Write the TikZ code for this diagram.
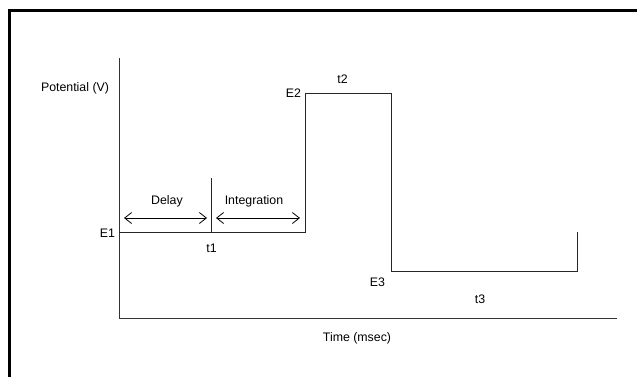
\documentclass[tikz,border=0pt]{standalone}
\usepackage{fontspec}
\setmainfont{Liberation Sans}
\usetikzlibrary{arrows.meta}
\begin{document}
\begin{tikzpicture}[x=1bp,y=-1bp,
  lbl/.style={inner sep=0pt,font=\fontsize{12.4}{14}\selectfont},
  axis/.style={draw=black!80,line width=0.9bp},
  wave/.style={draw=black!85,line width=0.9bp},
  span/.style={draw=black,line width=0.8bp,{Straight Barb[length=7bp,width=11bp]}-{Straight Barb[length=7bp,width=11bp]}}]
\useasboundingbox (0,0) rectangle (637,377);
% frame
\draw[line width=2.5bp] (9.7,377) -- (9.7,10.7) -- (637,10.7);
% axes
\coordinate (ytop) at (119,58);
\coordinate (orig) at (119,318);
\coordinate (xend) at (617,318);
\draw[axis] (ytop) -- (orig) -- (xend);
% waveform corners
\coordinate (w0) at (119,232.5);
\coordinate (w1) at (305,232.5);
\coordinate (w2) at (305,93);
\coordinate (w3) at (391,93);
\coordinate (w4) at (391,271);
\coordinate (w5) at (577,271);
\coordinate (w6) at (577,232);
\draw[wave] (w0) -- (w1) -- (w2) -- (w3) -- (w4) -- (w5) -- (w6);
% t1 marker
\coordinate (m1) at (211.5,178);
\coordinate (m0) at (211.5,232.5);
\draw[wave] (m1) -- (m0);
% delay / integration spans
\coordinate (d0) at (124,218);
\coordinate (d1) at (207,218);
\coordinate (i0) at (216,218);
\coordinate (i1) at (300,218);
\draw[span] (d0) -- (d1);
\draw[span] (i0) -- (i1);
% labels
\node[lbl] (pot) at (75,88) {Potential (V)};
\node[lbl] (time) at (357,338) {Time (msec)};
\node[lbl] (e1) at (107.5,233) {E1};
\node[lbl] (t1) at (211.5,248) {t1};
\node[lbl] (delay) at (167,201) {Delay};
\node[lbl] (integ) at (254,201) {Integration};
\node[lbl] (e2) at (293.5,93) {E2};
\node[lbl] (t2) at (342.5,79) {t2};
\node[lbl] (e3) at (377.5,282) {E3};
\node[lbl] (t3) at (480,299) {t3};
\end{tikzpicture}
\end{document}
